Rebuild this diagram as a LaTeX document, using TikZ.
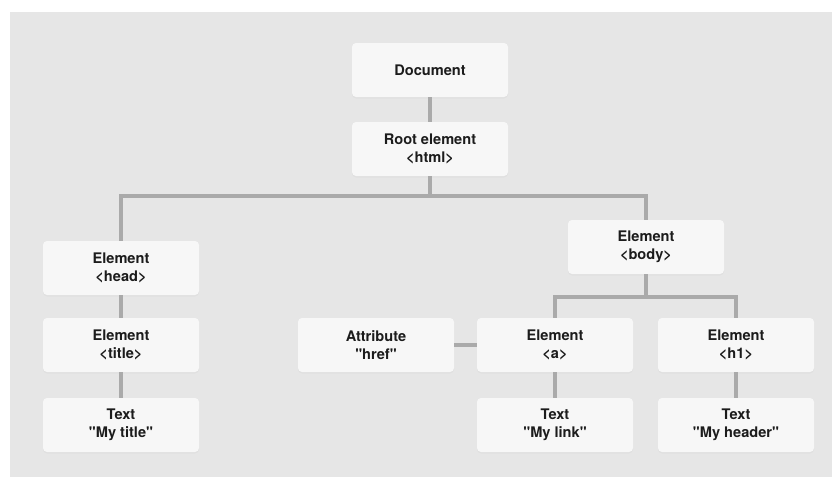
\documentclass[tikz,border=0pt]{standalone}
\usepackage{fontspec}
\setmainfont{TeX Gyre Heros}
\usetikzlibrary{shadows}
\definecolor{pagegray}{HTML}{E6E6E6}
\definecolor{boxwhite}{HTML}{F7F7F7}
\definecolor{linkgray}{HTML}{AAAAAA}
\definecolor{inkdark}{HTML}{1C1C1C}
\newcommand{\qt}[1]{\textquotedbl#1\textquotedbl}
\tikzset{
	domnode/.style={rounded corners=4pt, fill=boxwhite, minimum width=156pt, minimum height=54pt, align=center, inner sep=0pt, text=inkdark, font=\bfseries\fontsize{14.6}{18.5}\selectfont, drop shadow={opacity=0.06, shadow xshift=0pt, shadow yshift=-1.5pt}},
	link/.style={line width=3.5pt, color=linkgray}
}

\begin{document}
\begin{tikzpicture}[x=1pt, y=-1pt]
			%%%%% START %%%%%
			
			\useasboundingbox (0, 0) rectangle (832, 477);
			\fill[white] (0, 0) rectangle (832, 477);
			\fill[pagegray] (10, 12) rectangle (832, 477);
			
			\coordinate (htmlsplit) at (430, 196);
			\coordinate (bodysplit) at (646, 297);
			
			\node[domnode] (doc) at (430, 70) {Document};
			\node[domnode] (root) at (430, 149) {Root element\\<html>};
			
			\node[domnode] (head) at (121, 268) {Element\\<head>};
			\node[domnode] (title) at (121, 345) {Element\\<title>};
			\node[domnode] (titletext) at (121, 425) {Text\\\qt{My title}};
			
			\node[domnode] (body) at (646, 247) {Element\\<body>};
			\node[domnode] (href) at (376, 345) {Attribute\\\qt{href}};
			\node[domnode] (anchor) at (555, 345) {Element\\<a>};
			\node[domnode] (linktext) at (555, 425) {Text\\\qt{My link}};
			\node[domnode] (hone) at (736, 345) {Element\\<h1>};
			\node[domnode] (headertext) at (736, 425) {Text\\\qt{My header}};
			
			\draw[link] (doc) -- (root);
			\draw[link] (root) -- (htmlsplit);
			\draw[link] (head) |- (htmlsplit) -| (body);
			\draw[link] (head) -- (title);
			\draw[link] (title) -- (titletext);
			
			\draw[link] (body) -- (bodysplit);
			\draw[link] (anchor) |- (bodysplit) -| (hone);
			\draw[link] (href) -- (anchor);
			\draw[link] (anchor) -- (linktext);
			\draw[link] (hone) -- (headertext);
			
			%%%%% END %%%%%
\end{tikzpicture}
\end{document}
